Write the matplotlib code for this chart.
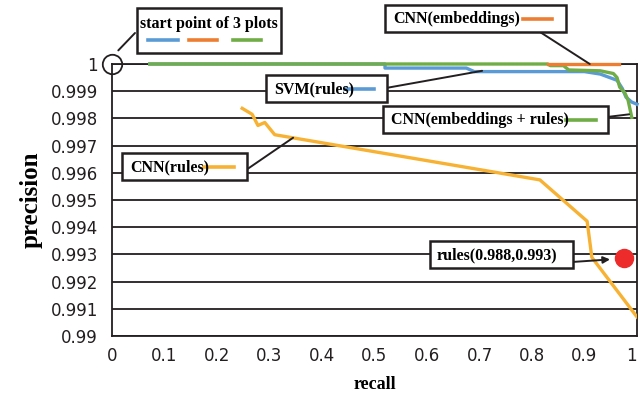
import matplotlib.pyplot as plt
from matplotlib.patches import Rectangle
from matplotlib.lines import Line2D

# data
svm_recall = [0.072, 0.52, 0.52, 0.675, 0.69, 0.90, 0.93, 0.962, 0.972, 0.979, 0.99, 1.0]
svm_precision = [1.0, 1.0, 0.99985, 0.99985, 0.99972, 0.99972, 0.99963, 0.9994, 0.9991, 0.99878, 0.9986, 0.99852]

emb_recall = [0.83, 0.966]
emb_precision = [1.0, 1.0]

embr_recall = [0.072, 0.83, 0.835, 0.86, 0.87, 0.93, 0.955, 0.962, 0.967, 0.977, 0.983, 0.99]
embr_precision = [1.0, 1.0, 0.99994, 0.99994, 0.99978, 0.99975, 0.99965, 0.9995, 0.99915, 0.99893, 0.99867, 0.99804]

cnnr_recall = [0.248, 0.267, 0.278, 0.291, 0.31, 0.815, 0.905, 0.914, 1.0]
cnnr_precision = [0.99837, 0.99815, 0.99774, 0.99785, 0.9974, 0.99574, 0.99422, 0.99289, 0.9907]

rules_point = (0.975, 0.99285)

xticks = [0, 0.1, 0.2, 0.3, 0.4, 0.5, 0.6, 0.7, 0.8, 0.9, 1]
xtick_labels = ['0', '0.1', '0.2', '0.3', '0.4', '0.5', '0.6', '0.7', '0.8', '0.9', '1']
yticks = [0.99, 0.991, 0.992, 0.993, 0.994, 0.995, 0.996, 0.997, 0.998, 0.999, 1.0]
ytick_labels = ['0.99', '0.991', '0.992', '0.993', '0.994', '0.995', '0.996', '0.997', '0.998', '0.999', '1']

BLUE = '#5B9BD5'
ORANGE = '#ED7D31'
GREEN = '#70AD47'
GOLD = '#F7B233'
RED = '#EE2B2B'

W, H = 640, 398
fig = plt.figure(figsize=(W / 100, H / 100), dpi=100)
ax = fig.add_axes([112 / W, 1 - 336 / H, 525 / W, 272 / H])


def px(x, y):
    # figure pixel (top-left origin) -> figure fraction
    return (x / W, 1 - y / H)


serif = {'family': 'Liberation Serif', 'weight': 'bold'}

ax.set_xlim(0, 1)
ax.set_ylim(0.99, 1.0)
ax.set_xticks(xticks)
ax.set_xticklabels(xtick_labels)
ax.set_yticks(yticks)
ax.set_yticklabels(ytick_labels)
ax.tick_params(length=0, labelsize=12, colors='#231f20')
ax.tick_params(axis='x', pad=8)
ax.tick_params(axis='y', pad=10)
ax.get_xticklabels()[-1].set_horizontalalignment('right')
for s in ax.spines.values():
    s.set_linewidth(1.3)
    s.set_color('#231f20')
ax.grid(axis='y', color='#231f20', linewidth=1.3)
ax.set_axisbelow(True)

lw = 2.4
ax.plot(cnnr_recall, cnnr_precision, color=GOLD, lw=lw, zorder=3)
ax.plot(svm_recall, svm_precision, color=BLUE, lw=lw, clip_on=False, zorder=3)
ax.plot(embr_recall, embr_precision, color=GREEN, lw=lw, clip_on=False, zorder=4)
ax.plot(emb_recall, emb_precision, color=ORANGE, lw=lw, clip_on=False, zorder=5)
ax.plot(*rules_point, 'o', color=RED, markersize=13, zorder=6, clip_on=False)

# circle at the start point
ax.plot(0, 1.0, 'o', markersize=14, markerfacecolor='none', markeredgecolor='#231f20',
        markeredgewidth=1.3, clip_on=False, zorder=6)

ax.set_xlabel('recall', fontdict=dict(serif, size=13), labelpad=8)
ax.set_ylabel('precision', fontdict=dict(serif, size=18), labelpad=6)


def box(x0, y0, x1, y1):
    fig.patches.append(Rectangle(px(x0, y1), (x1 - x0) / W, (y1 - y0) / H,
                                 transform=fig.transFigure, facecolor='white',
                                 edgecolor='#231f20', linewidth=1.8, zorder=10))


def dash(x0, x1, y, color):
    fig.lines.append(Line2D([x0 / W, x1 / W], [1 - y / H, 1 - y / H], transform=fig.transFigure,
                            color=color, lw=2.6, zorder=11))


def connector(x, y, xy, arrow=False):
    ax.annotate('', xy=xy, xycoords='data', xytext=px(x, y), textcoords='figure fraction',
                arrowprops=dict(arrowstyle='-|>' if arrow else '-', color='#231f20', lw=1.4,
                                shrinkA=0, shrinkB=10 if arrow else 0, mutation_scale=10),
                zorder=9, annotation_clip=False)


# start point of 3 plots
connector(135, 33, (0.012, 1.0005))
box(137, 8, 281, 53)
fig.text(*px(209, 24), 'start point of 3 plots', ha='center', va='center', fontdict=dict(serif, size=11.5), zorder=12)
dash(148, 178, 40, BLUE)
dash(189, 217, 40, ORANGE)
dash(233, 261, 40, GREEN)

# CNN(embeddings)
connector(540, 32, (0.91, 1.0))
box(385, 5, 566, 32)
fig.text(*px(393, 19), 'CNN(embeddings)', ha='left', va='center', fontdict=dict(serif, size=11.5), zorder=12)
dash(523, 552, 19, ORANGE)

# SVM(rules)
connector(386, 88, (0.705, 0.99975))
box(266, 75, 387, 102)
fig.text(*px(274, 89), 'SVM(rules)', ha='left', va='center', fontdict=dict(serif, size=11.5), zorder=12)
dash(345, 374, 89, BLUE)

# CNN(embeddings + rules)
connector(607, 117, (0.985, 0.99815))
box(383, 106, 608, 133)
fig.text(*px(391, 120), 'CNN(embeddings + rules)', ha='left', va='center', fontdict=dict(serif, size=11.5), zorder=12)
dash(566, 596, 120, GREEN)

# CNN(rules)
connector(246, 170, (0.345, 0.99729))
box(122, 153, 247, 180)
fig.text(*px(130, 167), 'CNN(rules)', ha='left', va='center', fontdict=dict(serif, size=11.5), zorder=12)
dash(204, 234, 167, GOLD)

# rules point
connector(572, 262, rules_point, arrow=True)
box(430, 241, 573, 268)
fig.text(*px(437, 255), 'rules(0.988,0.993)', ha='left', va='center', fontdict=dict(serif, size=11.5), zorder=12)

fig.savefig('out.png', dpi=100)
